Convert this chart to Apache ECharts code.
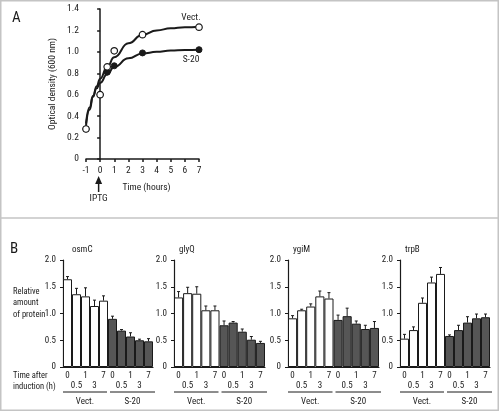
<!DOCTYPE html>
<html><head><meta charset="utf-8">
<script src="https://cdn.jsdelivr.net/npm/echarts@6/dist/echarts.min.js"></script>
<style>html,body{margin:0;padding:0;background:#fff}#c{width:500px;height:412px}</style>
</head><body><div id="c"></div>
<script>
const FONT = "'Roboto Condensed','Liberation Sans',Arial,sans-serif";
const INK = '#1a1a1a';

// ---------- Panel A: growth curves ----------
const vectTime = [-1, 0, 0.5, 1, 3, 7];
const vectOD   = [0.28, 0.60, 0.86, 1.01, 1.16, 1.23];
const s20Time  = [-1, 0, 0.5, 1, 3, 7];
const s20OD    = [0.28, 0.60, 0.81, 0.87, 0.99, 1.02];
const curveTime = [-1, -0.75, -0.5, -0.25, 0, 0.5, 1, 2, 3, 4, 5, 6, 7];
const vectCurve = [0.31, 0.46, 0.58, 0.68, 0.75, 0.86, 0.95, 1.08, 1.16, 1.20, 1.22, 1.23, 1.235];
const s20Curve  = [0.33, 0.48, 0.59, 0.66, 0.71, 0.79, 0.86, 0.94, 0.985, 1.00, 1.012, 1.018, 1.02];

// ---------- Panel B: relative protein amounts ----------
const timeLabels = ['0', '0.5', '1', '3', '7', '0', '0.5', '1', '3', '7'];
const groupNames = ['Vect.', 'S-20'];
const genes = ['osmC', 'glyQ', 'ygiM', 'trpB'];
const osmC    = [1.64, 1.36, 1.32, 1.14, 1.24, 0.90, 0.68, 0.57, 0.50, 0.48];
const osmCErr = [1.69, 1.47, 1.48, 1.25, 1.33, 0.95, 0.70, 0.64, 0.52, 0.53];
const glyQ    = [1.30, 1.38, 1.37, 1.06, 1.06, 0.78, 0.83, 0.66, 0.51, 0.45];
const glyQErr = [1.41, 1.49, 1.50, 1.14, 1.14, 0.86, 0.85, 0.71, 0.57, 0.48];
const ygiM    = [0.91, 1.06, 1.13, 1.32, 1.28, 0.88, 0.95, 0.81, 0.71, 0.73];
const ygiMErr = [0.96, 1.08, 1.18, 1.42, 1.39, 0.97, 1.10, 0.86, 0.78, 0.85];
const trpB    = [0.53, 0.69, 1.20, 1.58, 1.74, 0.58, 0.69, 0.83, 0.91, 0.93];
const trpBErr = [0.61, 0.75, 1.29, 1.68, 1.86, 0.60, 0.78, 0.94, 0.99, 0.99];
const geneValues = [osmC, glyQ, ygiM, trpB];
const geneErrors = [osmCErr, glyQErr, ygiMErr, trpBErr];

const chart = echarts.init(document.getElementById('c'), null, {renderer: 'canvas'});

const baseText = {fontFamily: FONT, color: INK};
const barGrids = [
  {left: 63, top: 260, width: 90, height: 107},
  {left: 174, top: 260, width: 91, height: 107},
  {left: 288, top: 260, width: 91, height: 107},
  {left: 400, top: 260, width: 90, height: 107}
];

const grids = [{left: 86, top: 9, width: 113, height: 150}].concat(barGrids);

const xAxes = [{
  gridIndex: 0, type: 'value', min: -1, max: 7, interval: 1,
  axisLine: {lineStyle: {color: INK, width: 1.5}},
  axisTick: {length: 3, lineStyle: {color: INK, width: 1.5}},
  axisLabel: Object.assign({fontSize: 9.5, margin: 7}, baseText),
  splitLine: {show: false},
  name: 'Time (hours)', nameLocation: 'middle', nameGap: 24,
  nameTextStyle: Object.assign({fontSize: 9.5, padding: [0, 0, 0, 8]}, baseText)
}];
const yAxes = [{
  gridIndex: 0, type: 'value', min: 0, max: 1.4, interval: 0.2,
  axisLine: {show: true, lineStyle: {color: INK, width: 1.5}},
  axisTick: {show: true, length: 3, lineStyle: {color: INK, width: 1.5}},
  axisLabel: Object.assign({fontSize: 9.5, margin: 7, formatter: v => v === 0 ? '0' : v.toFixed(1)}, baseText),
  splitLine: {show: false},
  name: 'Optical density (600 nm)', nameLocation: 'middle', nameGap: 28,
  nameTextStyle: Object.assign({fontSize: 9.5}, baseText)
}];

const series = [
  {type: 'line', xAxisIndex: 0, yAxisIndex: 0, smooth: 0.5, smoothMonotone: 'x', showSymbol: false,
   data: curveTime.map((t, i) => [t, vectCurve[i]]),
   lineStyle: {color: INK, width: 2}, z: 2},
  {type: 'line', xAxisIndex: 0, yAxisIndex: 0, smooth: 0.5, smoothMonotone: 'x', showSymbol: false,
   data: curveTime.map((t, i) => [t, s20Curve[i]]),
   lineStyle: {color: INK, width: 2}, z: 2},
  {type: 'scatter', xAxisIndex: 0, yAxisIndex: 0, symbol: 'circle', symbolSize: 6,
   data: s20Time.map((t, i) => [t, s20OD[i]]),
   itemStyle: {color: INK, borderColor: INK, borderWidth: 1, opacity: 1}, z: 3},
  {type: 'scatter', xAxisIndex: 0, yAxisIndex: 0, symbol: 'circle', symbolSize: 6.5,
   data: vectTime.map((t, i) => [t, vectOD[i]]),
   itemStyle: {color: '#fff', borderColor: INK, borderWidth: 1.2, opacity: 1}, z: 4}
];

function errRender(params, api) {
  const p0 = api.coord([api.value(0), api.value(1)]);
  const p1 = api.coord([api.value(0), api.value(2)]);
  const st = {stroke: INK, lineWidth: 1};
  return {type: 'group', children: [
    {type: 'line', shape: {x1: p0[0], y1: p0[1], x2: p1[0], y2: p1[1]}, style: st},
    {type: 'line', shape: {x1: p1[0] - 1.5, y1: p1[1], x2: p1[0] + 1.5, y2: p1[1]}, style: st}
  ]};
}
function groupRender(params, api) {
  const s = api.coord([api.value(0), 0]);
  const e = api.coord([api.value(1), 0]);
  const bw = api.size([1, 0])[0];
  const x1 = s[0] - bw / 2 + (params.dataIndex ? 2 : 0);
  const x2 = e[0] + bw / 2 + (params.dataIndex ? 2 : -1);
  const y = s[1] + 25;
  return {type: 'group', children: [
    {type: 'line', shape: {x1: x1, y1: y, x2: x2, y2: y}, style: {stroke: INK, lineWidth: 1}},
    {type: 'text', x: (x1 + x2) / 2, y: y + 10,
     style: {text: groupNames[params.dataIndex], fill: INK, font: '9px ' + FONT, align: 'center', verticalAlign: 'middle'}}
  ]};
}

const titles = [
  {text: 'A', left: 7, top: 6, textStyle: Object.assign({fontSize: 15, fontWeight: 'normal'}, baseText)},
  {text: 'B', left: 5, top: 237, textStyle: Object.assign({fontSize: 15, fontWeight: 'normal'}, baseText)}
];

genes.forEach((g, k) => {
  const gi = k + 1;
  titles.push({text: g, left: barGrids[k].left + (k === 0 ? 4 : 0), top: 240,
    textStyle: Object.assign({fontSize: 9, fontWeight: 'normal'}, baseText)});
  xAxes.push({
    gridIndex: gi, type: 'category',
    data: timeLabels.map((t, i) => ((i % 5) % 2 ? {value: t, textStyle: {padding: [10, 0, 0, 0]}} : {value: t})),
    axisLine: {lineStyle: {color: INK, width: 1.2}},
    axisTick: {show: false},
    axisLabel: Object.assign({fontSize: 9, margin: 4, interval: 0}, baseText)
  });
  yAxes.push({
    gridIndex: gi, type: 'value', min: 0, max: 2, interval: 0.5,
    axisLine: {show: true, lineStyle: {color: INK, width: 1.2}},
    axisTick: {show: true, length: 3, lineStyle: {color: INK}},
    axisLabel: Object.assign({fontSize: 9, margin: 7, formatter: v => v === 0 ? '0' : v.toFixed(1)}, baseText),
    splitLine: {show: false}
  });
  series.push({
    type: 'bar', xAxisIndex: gi, yAxisIndex: gi, barCategoryGap: 0,
    data: geneValues[k].map((v, i) => ({value: v, itemStyle: {color: i < 5 ? '#ffffff' : '#565656'}})),
    itemStyle: {borderColor: INK, borderWidth: 1}, z: 2
  });
  series.push({
    type: 'custom', xAxisIndex: gi, yAxisIndex: gi, renderItem: errRender,
    encode: {x: 0, y: [1, 2]},
    data: geneValues[k].map((v, i) => [i, v, geneErrors[k][i]]), z: 3
  });
  series.push({
    type: 'custom', xAxisIndex: gi, yAxisIndex: gi, renderItem: groupRender, clip: false,
    encode: {x: [0, 1], y: 2},
    data: [[0, 4, 0], [5, 9, 0]], z: 3
  });
});

chart.setOption({
  animation: false,
  backgroundColor: '#fff',
  textStyle: {fontFamily: FONT},
  title: titles,
  grid: grids,
  xAxis: xAxes,
  yAxis: yAxes,
  series: series
});

const p0 = chart.convertToPixel({gridIndex: 0}, [0, 0]);
const pV = chart.convertToPixel({gridIndex: 0}, [vectTime[5], vectOD[5]]);
const pS = chart.convertToPixel({gridIndex: 0}, [s20Time[5], s20OD[5]]);
chart.setOption({
  graphic: [
    {type: 'rect', shape: {x: 0.75, y: 0.75, width: 497.5, height: 409.5}, style: {fill: null, stroke: '#c4c4c4', lineWidth: 1.5}, silent: true},
    {type: 'line', shape: {x1: 0, y1: 218, x2: 499, y2: 218}, style: {stroke: '#c4c4c4', lineWidth: 1.5}},
    {type: 'text', x: pV[0] - 8, y: pV[1] - 10, style: {text: 'Vect.', fill: INK, font: '9.5px ' + FONT, align: 'center', verticalAlign: 'middle'}},
    {type: 'text', x: pS[0] - 8, y: pS[1] + 10, style: {text: 'S-20', fill: INK, font: '9.5px ' + FONT, align: 'center', verticalAlign: 'middle'}},
    {type: 'line', shape: {x1: p0[0] - 1.5, y1: p0[1] + 21, x2: p0[0] - 1.5, y2: p0[1] + 33}, style: {stroke: INK, lineWidth: 1.5}},
    {type: 'polygon', shape: {points: [[p0[0] - 1.5, p0[1] + 17], [p0[0] - 5, p0[1] + 25], [p0[0] + 2, p0[1] + 25]]}, style: {fill: INK}},
    {type: 'text', x: p0[0] - 1.5, y: p0[1] + 40, style: {text: 'IPTG', fill: INK, font: '9.5px ' + FONT, align: 'center', verticalAlign: 'middle'}},
    {type: 'text', x: 13, y: 286, style: {text: 'Relative\namount\nof protein', fill: INK, font: '8.5px ' + FONT, lineHeight: 11.5}},
    {type: 'text', x: 13, y: 370, style: {text: 'Time after\ninduction (h)', fill: INK, font: '8.5px ' + FONT, lineHeight: 11}}
  ]
});
</script></body></html>
